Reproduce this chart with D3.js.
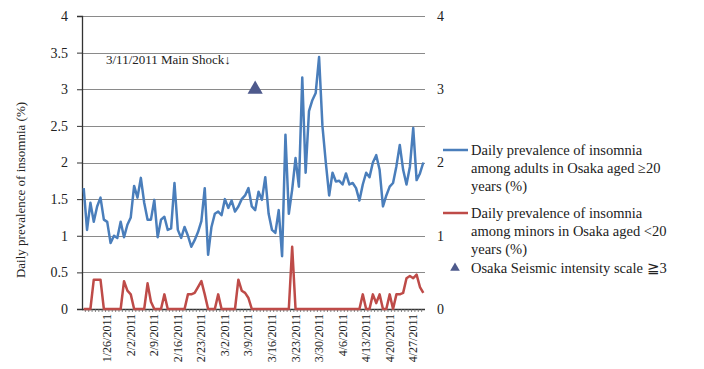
<!DOCTYPE html>
<html>
<head>
<meta charset="utf-8">
<script src="https://cdn.jsdelivr.net/npm/d3@7"></script>
<style>
  html, body { margin: 0; padding: 0; background: #fff; }
</style>
</head>
<body>
<svg id="chart" width="704" height="369"></svg>
<script>
// Daily series, one value per day from 1/19/2011 to 4/30/2011
const firstDay = new Date(2011, 0, 19);
const dayAfterLast = new Date(2011, 4, 1);

const adultPrevalence = [
  1.65, 1.08, 1.45, 1.19, 1.40, 1.52, 1.22, 1.19, 0.90, 1.00,
  0.97, 1.19, 0.98, 1.15, 1.25, 1.68, 1.52, 1.79, 1.45, 1.22,
  1.22, 1.49, 0.98, 1.22, 1.26, 1.08, 1.10, 1.72, 1.08, 0.97,
  1.12, 1.00, 0.85, 0.94, 1.05, 1.20, 1.65, 0.74, 1.12, 1.30,
  1.33, 1.28, 1.50, 1.38, 1.48, 1.33, 1.40, 1.50, 1.55, 1.65,
  1.40, 1.35, 1.60, 1.49, 1.80, 1.30, 1.08, 1.04, 1.35, 0.72,
  2.38, 1.30, 1.63, 2.06, 1.67, 3.16, 1.86, 2.70, 2.85, 2.95,
  3.44, 2.50, 2.00, 1.55, 1.86, 1.74, 1.75, 1.70, 1.85, 1.70,
  1.72, 1.65, 1.48, 1.70, 1.86, 1.80, 2.00, 2.10, 1.90, 1.40,
  1.55, 1.67, 1.72, 1.95, 2.24, 1.90, 1.70, 1.94, 2.47, 1.76,
  1.85, 2.00
];

const minorPrevalence = [
  0, 0, 0, 0.40, 0.40, 0.40, 0, 0, 0, 0,
  0, 0, 0.38, 0.25, 0.20, 0, 0, 0, 0, 0.35,
  0.10, 0, 0, 0, 0.20, 0, 0, 0, 0, 0,
  0, 0.20, 0.20, 0.22, 0.30, 0.38, 0.20, 0, 0, 0,
  0.20, 0, 0, 0, 0, 0, 0.40, 0.25, 0.22, 0.15,
  0, 0, 0, 0, 0, 0, 0, 0, 0, 0,
  0, 0, 0.85, 0, 0, 0, 0, 0, 0, 0,
  0, 0, 0, 0, 0, 0, 0, 0, 0, 0,
  0, 0, 0, 0.20, 0, 0, 0.20, 0.08, 0.20, 0,
  0, 0.20, 0, 0.20, 0.20, 0.22, 0.42, 0.45, 0.42, 0.47,
  0.30, 0.22
];

// Days with Osaka seismic intensity >= 3 (secondary axis value)
const seismicDates = ["3/11/2011"];
const seismicValues = [3];

const tickLabels = [
  "1/26/2011", "2/2/2011", "2/9/2011", "2/16/2011", "2/23/2011", "3/2/2011", "3/9/2011",
  "3/16/2011", "3/23/2011", "3/30/2011", "4/6/2011", "4/13/2011", "4/20/2011", "4/27/2011"
];
const leftTicks = [0, 0.5, 1, 1.5, 2, 2.5, 3, 3.5, 4];
const rightTicks = [0, 1, 2, 3, 4];

const annotationText = "3/11/2011 Main Shock\u2193";
const yTitle = "Daily prevalence of insomnia (%)";
const legendAdult = ["Daily prevalence of insomnia", "among adults in Osaka aged \u226520", "years (%)"];
const legendMinor = ["Daily prevalence of insomnia", "among minors in Osaka aged <20", "years (%)"];
const legendSeismic = "Osaka Seismic intensity scale \u22673";

const blue = "#4a7ebb", red = "#be4b48", slate = "#4e5a8c";
const serif = "'Liberation Serif', 'Times New Roman', serif";
const ink = "#222";

const fmt = d3.timeFormat("%-m/%-d/%Y");
const days = d3.timeDay.range(firstDay, dayAfterLast).map(fmt);

const plot = { left: 82, right: 425, top: 16, bottom: 309 };

const svg = d3.select("#chart");

const x = d3.scaleBand().domain(days).range([plot.left, plot.right]).padding(0);
const cx = d => x(d) + x.bandwidth() / 2;
const y = d3.scaleLinear().domain([0, 4]).range([plot.bottom, plot.top]);
const y2 = d3.scaleLinear().domain([0, 4]).range([plot.bottom, plot.top]);

function styleText(sel, size) {
  sel.style("font-family", serif).style("font-size", size + "px").style("fill", ink);
}

// horizontal gridlines
svg.append("g")
  .selectAll("line")
  .data(leftTicks.filter(v => v > 0))
  .join("line")
  .attr("x1", plot.left).attr("x2", plot.right)
  .attr("y1", d => Math.round(y(d)) + 0.5).attr("y2", d => Math.round(y(d)) + 0.5)
  .attr("stroke", "#8a8a8a").attr("stroke-width", 1);

// left axis
const leftAxis = svg.append("g")
  .attr("transform", `translate(${plot.left},0)`)
  .call(d3.axisLeft(y).tickValues(leftTicks).tickSize(5).tickPadding(9).tickFormat(d => String(d)));
leftAxis.select(".domain").attr("stroke", "#333").attr("stroke-width", 1.3);
leftAxis.selectAll(".tick line").attr("stroke", "#333");
styleText(leftAxis.selectAll(".tick text"), 14);

// right axis labels
const rightAxis = svg.append("g")
  .attr("transform", `translate(${plot.right},0)`)
  .call(d3.axisRight(y2).tickValues(rightTicks).tickSize(0).tickPadding(12).tickFormat(d => String(d)));
rightAxis.select(".domain").remove();
styleText(rightAxis.selectAll(".tick text"), 14);

// category axis with daily ticks
svg.append("line")
  .attr("x1", plot.left).attr("x2", plot.right)
  .attr("y1", plot.bottom + 0.5).attr("y2", plot.bottom + 0.5)
  .attr("stroke", "#333").attr("stroke-width", 1.3);
svg.append("g")
  .selectAll("line")
  .data(days.slice(1))
  .join("line")
  .attr("x1", d => x(d)).attr("x2", d => x(d))
  .attr("y1", plot.bottom).attr("y2", plot.bottom + 3)
  .attr("stroke", "#666").attr("stroke-width", 0.8);

styleText(svg.append("g")
  .selectAll("text")
  .data(tickLabels)
  .join("text")
  .attr("transform", d => `translate(${cx(d)},${plot.bottom + 5}) rotate(-90)`)
  .attr("text-anchor", "end")
  .attr("dominant-baseline", "central")
  .text(d => d), 12);

// y axis title
styleText(svg.append("text")
  .attr("transform", `translate(20,190) rotate(-90)`)
  .attr("text-anchor", "middle")
  .attr("dominant-baseline", "central")
  .text(yTitle), 13);

// series lines
const line = d3.line()
  .x((d, i) => cx(days[i]))
  .y(d => y(d));

svg.append("path")
  .datum(minorPrevalence)
  .attr("d", line)
  .attr("fill", "none").attr("stroke", red)
  .attr("stroke-width", 2.5).attr("stroke-linejoin", "round");

svg.append("path")
  .datum(adultPrevalence)
  .attr("d", line)
  .attr("fill", "none").attr("stroke", blue)
  .attr("stroke-width", 2.5).attr("stroke-linejoin", "round");

// seismic markers
const tri = d3.symbol(d3.symbolTriangle, 100);
svg.append("g")
  .selectAll("path")
  .data(seismicDates.map((d, i) => ({ d, v: seismicValues[i] })))
  .join("path")
  .attr("d", tri)
  .attr("transform", p => `translate(${cx(p.d)},${y2(p.v)})`)
  .attr("fill", slate);

// main shock annotation
styleText(svg.append("text")
  .attr("x", 106).attr("y", 64)
  .text(annotationText), 13);

// legend
const lg = svg.append("g");
const lineX1 = 443, lineX2 = 468, textX = 471, rowH = 18;
function legendBlock(top, color, lines) {
  lg.append("line")
    .attr("x1", lineX1).attr("x2", lineX2)
    .attr("y1", top).attr("y2", top)
    .attr("stroke", color).attr("stroke-width", 2.5);
  lines.forEach((t, i) => {
    styleText(lg.append("text")
      .attr("x", textX).attr("y", top + i * rowH)
      .attr("dominant-baseline", "central")
      .text(t), 14.5);
  });
}
legendBlock(150, blue, legendAdult);
legendBlock(213, red, legendMinor);
lg.append("path")
  .attr("d", d3.symbol(d3.symbolTriangle, 40))
  .attr("transform", "translate(455,268)")
  .attr("fill", slate);
styleText(lg.append("text")
  .attr("x", textX).attr("y", 268)
  .attr("dominant-baseline", "central")
  .text(legendSeismic), 14.5);
</script>
</body>
</html>
